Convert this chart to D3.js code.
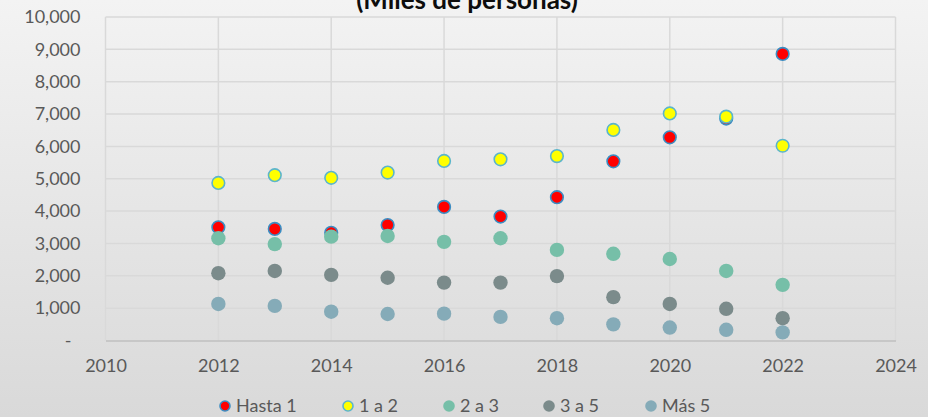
<!DOCTYPE html>
<html>
<head>
<meta charset="utf-8">
<script src="https://cdn.jsdelivr.net/npm/d3@7"></script>
<style>
  html, body { margin: 0; padding: 0; }
  body { width: 928px; height: 417px; overflow: hidden; }
</style>
</head>
<body>
<svg id="chart" width="928" height="417"></svg>
<script>
// values (miles de personas)
const years = [2012, 2013, 2014, 2015, 2016, 2017, 2018, 2019, 2020, 2021, 2022];
const hasta1 = [3500, 3450, 3330, 3570, 4130, 3830, 4430, 5540, 6280, 6860, 8860];
const unoADos = [4870, 5110, 5030, 5190, 5550, 5600, 5700, 6510, 7020, 6920, 6020];
const dosATres = [3160, 2980, 3210, 3230, 3050, 3160, 2800, 2680, 2520, 2150, 1720];
const tresACinco = [2080, 2150, 2030, 1940, 1790, 1790, 1990, 1340, 1130, 980, 690];
const mas5 = [1130, 1070, 890, 820, 830, 730, 690, 500, 400, 330, 250];

const xTicks = [2010, 2012, 2014, 2016, 2018, 2020, 2022, 2024];
const yTicks = [0, 1000, 2000, 3000, 4000, 5000, 6000, 7000, 8000, 9000, 10000];

const series = [
  { name: "Hasta 1", values: hasta1, fill: "#ff0000", stroke: "#3a8dc3" },
  { name: "1 a 2", values: unoADos, fill: "#ffff00", stroke: "#5bb5cc" },
  { name: "2 a 3", values: dosATres, fill: "#76bfa8", stroke: null },
  { name: "3 a 5", values: tresACinco, fill: "#7b8b8b", stroke: null },
  { name: "Más 5", values: mas5, fill: "#85abb8", stroke: null },
];

const width = 928, height = 417;
const font = "Lato, 'Open Sans', sans-serif";
const svg = d3.select("#chart");

// background gradient like the Excel chart area
const defs = svg.append("defs");
const grad = defs.append("linearGradient")
  .attr("id", "bg").attr("x1", 0).attr("y1", 0).attr("x2", 0).attr("y2", 1);
grad.append("stop").attr("offset", "0%").attr("stop-color", "#f3f3f3");
grad.append("stop").attr("offset", "100%").attr("stop-color", "#d9d9d9");
svg.append("rect").attr("width", width).attr("height", height).attr("fill", "url(#bg)");

const x = d3.scaleLinear().domain([2010, 2024]).range([105.5, 895.5]);
const y = d3.scaleLinear().domain([0, 10000]).range([340.5, 17]);

// gridlines
svg.append("g")
  .selectAll("line")
  .data(yTicks.slice(1))
  .join("line")
  .attr("x1", x.range()[0]).attr("x2", x.range()[1])
  .attr("y1", d => y(d)).attr("y2", d => y(d))
  .attr("stroke", "#d9d9d9").attr("stroke-width", 1.5);

svg.append("g")
  .selectAll("line")
  .data(xTicks)
  .join("line")
  .attr("x1", d => x(d)).attr("x2", d => x(d))
  .attr("y1", y.range()[0]).attr("y2", y.range()[1])
  .attr("stroke", "#d9d9d9").attr("stroke-width", 1.5);

// x axis
const xAxis = d3.axisBottom(x).tickValues(xTicks).tickFormat(d3.format("d")).tickSize(0).tickPadding(19);
const gx = svg.append("g").attr("transform", `translate(0,${y(0)})`).call(xAxis);
gx.select(".domain").attr("stroke", "#bfbfbf").attr("stroke-width", 1.5);
gx.selectAll("text").attr("fill", "#595959").style("font-family", font).style("font-size", "18px");

// y axis
const fmt = d3.format(",");
const yAxis = d3.axisLeft(y).tickValues(yTicks).tickFormat(d => d === 0 ? "-" : fmt(d)).tickSize(0).tickPadding(25);
const gy = svg.append("g").attr("transform", `translate(${x.range()[0]},0)`).call(yAxis);
gy.select(".domain").remove();
gy.selectAll("text").attr("fill", "#595959").style("font-family", font).style("font-size", "18px")
  .attr("dx", d => d === 0 ? -9 : 0);

// markers, in series order so later ones sit on top
series.forEach(s => {
  svg.append("g")
    .selectAll("circle")
    .data(years.map((yr, i) => [yr, s.values[i]]))
    .join("circle")
    .attr("cx", d => x(d[0]))
    .attr("cy", d => y(d[1]))
    .attr("r", s.stroke ? 6.3 : 7.2)
    .attr("fill", s.fill)
    .attr("stroke", s.stroke || "none")
    .attr("stroke-width", 1.6);
});

// title, cut off at the top as in the reference
svg.append("text")
  .attr("x", 467).attr("y", 9)
  .attr("text-anchor", "middle")
  .attr("fill", "#0d0d0d")
  .style("font-family", font).style("font-size", "26px").style("font-weight", "bold")
  .text("(Miles de personas)");

// legend
const legendX = [225, 348, 449, 549, 651];
const legend = svg.append("g");
series.forEach((s, i) => {
  const g = legend.append("g").attr("transform", `translate(${legendX[i]},406)`);
  g.append("circle")
    .attr("r", s.stroke ? 5 : 5.8)
    .attr("fill", s.fill)
    .attr("stroke", s.stroke || "none")
    .attr("stroke-width", 1.6);
  g.append("text")
    .attr("x", 11).attr("y", 6)
    .attr("fill", "#595959")
    .style("font-family", font).style("font-size", "18px")
    .text(s.name);
});
</script>
</body>
</html>
